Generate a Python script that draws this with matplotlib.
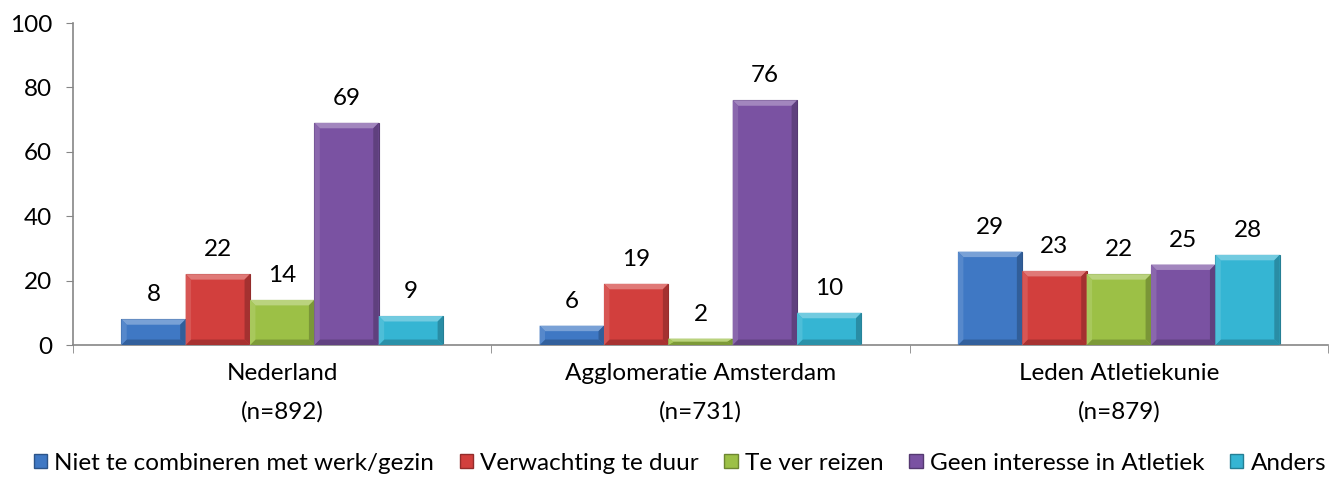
import numpy as np
import matplotlib.pyplot as plt
from matplotlib.patches import Polygon, Patch
from matplotlib.colors import to_rgb

categories = ['Nederland\n(n=892)', 'Agglomeratie Amsterdam\n(n=731)', 'Leden Atletiekunie\n(n=879)']
series = ['Niet te combineren met werk/gezin', 'Verwachting te duur', 'Te ver reizen',
          'Geen interesse in Atletiek', 'Anders']
values = [
    [8, 6, 29],
    [22, 19, 23],
    [14, 2, 22],
    [69, 76, 25],
    [9, 10, 28],
]
colors = ['#3F78C4', '#D23F3D', '#9CC046', '#7A52A2', '#35B5D3']

plt.rcParams['font.family'] = ['Lato', 'DejaVu Sans']
fs = 17.5

fig = plt.figure(figsize=(13.41, 4.84), dpi=100)
ax = fig.add_axes([73 / 1341, 1 - 345 / 484, (1328 - 73) / 1341, (345 - 23) / 484])

x = np.arange(len(categories))
w = 1 / 6.5


def shade(c, f):
    r, g, b = to_rgb(c)
    if f > 0:
        return (r + (1 - r) * f, g + (1 - g) * f, b + (1 - b) * f)
    return (r * (1 + f), g * (1 + f), b * (1 + f))


for i, (s, vals) in enumerate(zip(series, values)):
    pos = x + (i - 2) * w
    ax.bar(pos, vals, width=w, color=colors[i], edgecolor=shade(colors[i], -0.3), linewidth=0.8, zorder=2)
    # bevel edges
    for p, h in zip(pos, vals):
        x0, x1 = p - w / 2, p + w / 2
        bx = min(0.013, w / 2)
        by = min(1.7, h / 2)
        faces = [
            ([(x0, h), (x1, h), (x1 - bx, h - by), (x0 + bx, h - by)], 0.3),
            ([(x0, 0), (x1, 0), (x1 - bx, by), (x0 + bx, by)], -0.2),
            ([(x0, 0), (x0, h), (x0 + bx, h - by), (x0 + bx, by)], 0.12),
            ([(x1, 0), (x1, h), (x1 - bx, h - by), (x1 - bx, by)], -0.22),
        ]
        for pts, f in faces:
            ax.add_patch(Polygon(pts, closed=True, facecolor=shade(colors[i], f), edgecolor='none', zorder=3))
        ax.annotate(str(h), (p, h), xytext=(0, 10), textcoords='offset points',
                    ha='center', va='bottom', fontsize=fs, color='black')

ax.set_xlim(-0.5, 2.5)
ax.set_ylim(0, 100)
ax.set_yticks(range(0, 101, 20))
ax.set_xticks(x)
ax.set_xticklabels(categories, fontsize=fs, linespacing=1.95)
ax.set_xticks([-0.5, 0.5, 1.5, 2.5], minor=True)
ax.tick_params(axis='x', which='major', length=0, pad=13)
ax.tick_params(axis='x', which='minor', length=6, color='#868686', direction='out')
ax.tick_params(axis='y', length=5, color='#868686', labelsize=fs, pad=10)
for sp in ['top', 'right']:
    ax.spines[sp].set_visible(False)
for sp in ['left', 'bottom']:
    ax.spines[sp].set_color('#868686')
    ax.spines[sp].set_linewidth(1.2)

handles = [Patch(facecolor=c, edgecolor=shade(c, -0.3)) for c in colors]
fig.legend(handles, series, loc='center', bbox_to_anchor=(0.507, 1 - 463 / 484), ncol=5,
           frameon=False, fontsize=fs, handlelength=0.55, handleheight=0.55,
           handletextpad=0.3, columnspacing=1.05)

fig.savefig('out.png', dpi=100)
